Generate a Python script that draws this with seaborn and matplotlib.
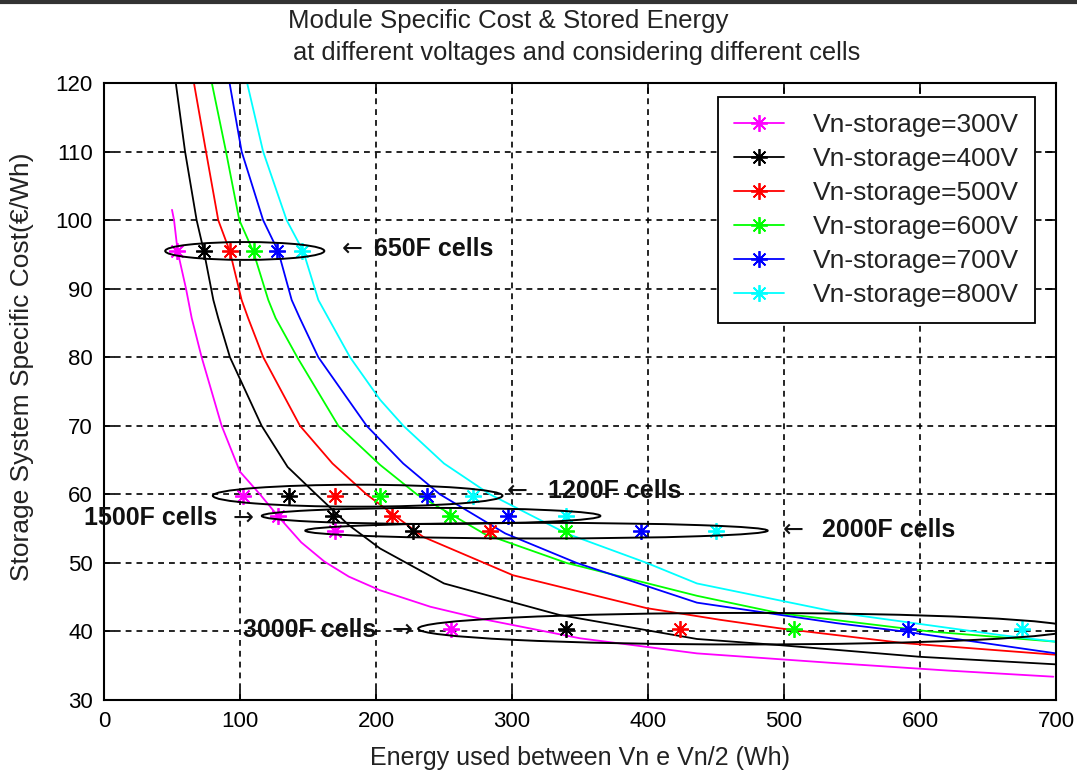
import numpy as np
import pandas as pd
import seaborn as sns
import matplotlib
matplotlib.use("Agg")
import matplotlib.pyplot as plt
from matplotlib.patches import Ellipse
from matplotlib.lines import Line2D

# ---------------- data ----------------
voltages = ["300V", "400V", "500V", "600V", "700V", "800V"]
colors = ["#FF00FF", "#000000", "#FF0000", "#00FF00", "#0000FF", "#00FFFF"]

E_300 = [50, 51.5, 54.2, 60.3, 64.5, 71.8, 86.5, 100, 114.7, 128, 145, 162, 180, 203, 240, 276, 350, 436, 536, 620, 698]
C_300 = [101.5, 100, 95.4, 90, 85.7, 80, 70, 63.3, 60, 56.8, 53.0, 50.2, 48.0, 46.0, 43.6, 41.9, 39.0, 36.8, 35.4, 34.3, 33.4]
E_400 = [52.5, 53, 59.6, 68.1, 73.5, 80.4, 84, 92.6, 115.9, 135, 156, 180, 203, 250, 335, 436, 497, 600, 700]
C_400 = [121, 119.7, 110, 100, 95.4, 88.35, 85.7, 80, 70, 64.0, 60, 55.5, 52.1, 47.0, 42.4, 38.9, 38.0, 36.3, 35.2]
E_500 = [65.5, 66.4, 75, 84, 92.6, 101.2, 106, 117.1, 144.1, 168, 193, 234.6, 300.7, 399, 453, 497, 588, 700]
C_500 = [121, 119.7, 110, 100, 95.4, 88.35, 85.7, 80, 70, 64.5, 60, 53.8, 48.2, 43.4, 41.7, 40.45, 38.3, 36.6]
E_600 = [78.5, 79.6, 89.7, 99.5, 109.8, 120.8, 126.2, 142.1, 172.3, 203, 230, 280, 340, 436, 497, 607, 700]
C_600 = [121, 119.7, 110, 100, 95.4, 88.35, 85.7, 80, 70, 64.3, 60, 54.2, 50, 45.2, 42.65, 40.0, 38.5]
E_700 = [91.5, 92.6, 101.2, 117, 128.2, 138, 144, 157.6, 193.1, 220, 247, 295, 347.5, 436, 539, 588, 700]
C_700 = [121, 119.7, 110, 100, 95.4, 88.35, 85.7, 80, 70, 64.5, 60, 54.3, 50, 44.2, 41.2, 40.0, 36.8]
E_800 = [104.5, 105.6, 117, 134.3, 146.6, 157.6, 165, 180.9, 203, 220.1, 250, 283.8, 340, 399, 436, 543, 658, 700]
C_800 = [121, 119.7, 110, 100, 95.4, 88.35, 85.7, 80, 73.8, 70, 64.5, 60, 54.3, 50, 47.0, 42.65, 39.5, 38.5]

curves_E = [E_300, E_400, E_500, E_600, E_700, E_800]
curves_C = [C_300, C_400, C_500, C_600, C_700, C_800]

# cell types: marker energies per voltage and common cost level
cells = ["650F", "1200F", "1500F", "2000F", "3000F"]
cell_cost = [95.5, 59.8, 56.85, 54.7, 40.4]
cell_E = [
    [53.7, 73.5, 92.6, 110.3, 127.2, 145.6],
    [102.2, 136.0, 169.9, 203.0, 237.5, 271.3],
    [128.0, 168.4, 211.8, 254.4, 297.0, 339.7],
    [169.9, 227.2, 283.8, 339.7, 394.9, 450.0],
    [255.0, 339.7, 423.5, 507.4, 591.2, 675.0],
]
# ellipse extents (left E, right E, half height in cost units)
ell_left = [45, 80, 116, 148, 231]
ell_right = [162, 293, 365, 488, 712]
ell_half = [1.3, 1.6, 1.17, 1.14, 2.3]

x_ticks = [0, 100, 200, 300, 400, 500, 600, 700]
y_ticks = [30, 40, 50, 60, 70, 80, 90, 100, 110, 120]

# ---------------- figure ----------------
sns.set_theme(style="white")
plt.rcParams["font.family"] = ["Liberation Sans", "DejaVu Sans"]

fig = plt.figure(figsize=(10.77, 7.74), dpi=100, facecolor="white")
ax = fig.add_axes([104 / 1077, 1 - 700 / 774, (1056 - 104) / 1077, (700 - 83) / 774])
ax.set_facecolor("white")

for Es, Cs, col in zip(curves_E, curves_C, colors):
    df = pd.DataFrame({"E": Es, "C": Cs})
    sns.lineplot(data=df, x="E", y="C", color=col, lw=1.3, ax=ax,
                 estimator=None, sort=False, legend=False)

ast = (8, 2, 0)
for Es_c, cost in zip(cell_E, cell_cost):
    for e, col in zip(Es_c, colors):
        ax.plot([e], [cost], linestyle="none", marker=ast, ms=12, mew=1.3,
                color=col, zorder=4)

for l, r, c, h in zip(ell_left, ell_right, cell_cost, ell_half):
    ax.add_patch(Ellipse(((l + r) / 2, c), r - l, 2 * h, fill=False,
                         edgecolor="black", lw=1.4, zorder=5))

ax.set_xlim(0, 700)
ax.set_ylim(30, 120)
ax.set_xticks(x_ticks)
ax.set_yticks(y_ticks)
ax.set_xticklabels([str(v) for v in x_ticks], fontsize=16)
ax.set_yticklabels([str(v) for v in y_ticks], fontsize=16)
ax.tick_params(direction="in", length=8, width=1.2, top=True, right=True,
               bottom=True, left=True, colors="black", pad=8)
ax.grid(True, color="black", linestyle=(0, (3.5, 3)), lw=1.2)
for s in ax.spines.values():
    s.set_color("black")
    s.set_linewidth(1.5)

ax.set_xlabel("Energy used between Vn e Vn/2 (Wh)", fontsize=18, color="#222222")
ax.set_ylabel("Storage System Specific Cost(€/Wh)", fontsize=19, color="#222222")
ax.xaxis.set_label_coords(0.5, -0.075)
ax.yaxis.set_label_coords(-0.074, 0.54)

fig.text(508 / 1077, 1 - 21 / 774, "Module Specific Cost & Stored Energy",
         ha="center", va="center", fontsize=18.6, color="#222222")
fig.text(577 / 1077, 1 - 53 / 774,
         "at different voltages and considering different cells",
         ha="center", va="center", fontsize=18.4, color="#222222")

# annotations
bold = dict(fontsize=18, fontweight="bold", color="#111111", va="center")
arr = dict(fontsize=18, color="#111111", va="center", ha="center",
           family=["DejaVu Sans"])
ax.text(182.4, 95.8, "←", **arr)
ax.text(198.5, 95.8, "650F cells", ha="left", **bold)
ax.text(303.7, 60.5, "←", **arr)
ax.text(326.5, 60.5, "1200F cells", ha="left", **bold)
ax.text(-14.7, 56.6, "1500F cells", ha="left", clip_on=False, **bold)
ax.text(102, 56.6, "→", **arr)
ax.text(506.6, 54.8, "←", **arr)
ax.text(528, 54.8, "2000F cells", ha="left", **bold)
ax.text(102.2, 40.2, "3000F cells", ha="left", **bold)
ax.text(219, 40.2, "→", **arr)

handles = [Line2D([0], [0], color=c, lw=1.3, marker=ast, ms=12, mew=1.3)
           for c in colors]
labels = ["Vn-storage=" + v for v in voltages]
leg = ax.legend(handles, labels, loc="upper right",
                bbox_to_anchor=(0.978, 0.977), borderaxespad=0,
                fontsize=19, frameon=True, fancybox=False, framealpha=1,
                edgecolor="black", handlelength=1.9, handletextpad=1.1,
                labelspacing=0.38, borderpad=0.6)
leg.get_frame().set_linewidth(1.3)
for t in leg.get_texts():
    t.set_color("#222222")

fig.add_artist(Line2D([0, 1], [0.998, 0.998], color="#333333", lw=3,
                      transform=fig.transFigure))

fig.savefig("out.png", dpi=100, facecolor="white")
